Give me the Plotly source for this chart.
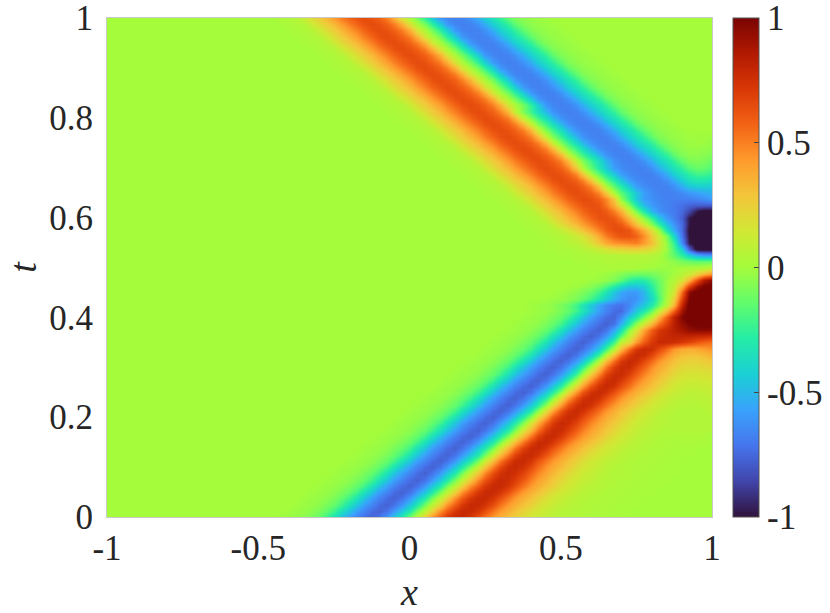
import plotly.graph_objects as go

x_grid = [-1, -0.75, -0.5, -0.475, -0.45, -0.425, -0.4, -0.375, -0.35, -0.325, -0.3, -0.275, -0.25, -0.225, -0.2,
          -0.175, -0.15, -0.125, -0.1, -0.075, -0.05, -0.025, 0, 0.025, 0.05, 0.075, 0.1, 0.125, 0.15, 0.175, 0.2,
          0.225, 0.25, 0.275, 0.3, 0.325, 0.35, 0.375, 0.4, 0.425, 0.45, 0.475, 0.5, 0.525, 0.55, 0.575, 0.6,
          0.625, 0.65, 0.675, 0.7, 0.725, 0.75, 0.775, 0.8, 0.825, 0.85, 0.875, 0.9, 0.925, 0.95, 0.975, 1]
t_grid = [0, 0.0125, 0.025, 0.0375, 0.05, 0.0625, 0.075, 0.0875, 0.1, 0.1125, 0.125, 0.1375, 0.15, 0.1625, 0.175,
          0.1875, 0.2, 0.2125, 0.225, 0.2375, 0.25, 0.2625, 0.275, 0.2875, 0.3, 0.3125, 0.325, 0.3375, 0.35, 0.3625,
          0.375, 0.3875, 0.4, 0.4125, 0.425, 0.4375, 0.45, 0.4625, 0.475, 0.4875, 0.5, 0.5125, 0.525, 0.5375, 0.55,
          0.5625, 0.575, 0.5875, 0.6, 0.6125, 0.625, 0.6375, 0.65, 0.6625, 0.675, 0.6875, 0.7, 0.7125, 0.725, 0.7375,
          0.75, 0.7625, 0.775, 0.7875, 0.8, 0.8125, 0.825, 0.8375, 0.85, 0.8625, 0.875, 0.8875, 0.9, 0.9125, 0.925,
          0.9375, 0.95, 0.9625, 0.975, 0.9875, 1]

# u(x, t) in hundredths, one row per t_grid entry
u_rows = [
    [0]*5 + [-1,-2,-3,-5,-9,-14,-22,-34,-46,-58,-67,-74,-77,-72,-60,-45,-30,-10,7,24,45,60,72,78,78,73,64,53,43,36,30,24,18,14,11,8,6,5,4,3,3,2,2,1,1,1],
    [0]*6 + [-1,-2,-3,-5,-9,-14,-22,-34,-46,-58,-67,-74,-77,-72,-60,-45,-30,-10,7,24,45,60,72,78,78,73,64,53,43,36,30,24,18,14,11,8,6,5,4,3,3,2,2,1,1,1],
    [0]*7 + [-1,-2,-3,-5,-9,-14,-22,-34,-46,-58,-67,-74,-77,-72,-60,-45,-30,-10,7,24,45,60,72,78,78,73,64,53,43,36,30,24,18,14,11,8,6,5,4,3,3,2,2,1,1,1],
    [0]*8 + [-1,-2,-3,-5,-9,-14,-22,-34,-46,-58,-67,-74,-77,-72,-60,-45,-30,-10,7,24,45,60,72,78,78,73,64,53,43,36,30,24,18,14,11,8,6,5,4,3,3,2,2,1,1,1],
    [0]*9 + [-1,-2,-3,-5,-9,-14,-22,-34,-46,-58,-67,-74,-77,-72,-60,-45,-30,-10,7,24,45,60,72,78,78,73,64,53,43,36,30,24,18,14,11,8,6,5,4,3,3,2,2,1,1,1],
    [0]*10 + [-1,-2,-3,-5,-9,-14,-22,-34,-46,-58,-67,-74,-77,-72,-60,-45,-30,-10,7,24,45,60,72,78,78,73,64,53,43,36,30,24,18,14,11,8,6,5,4,3,3,2,2,1,1,1],
    [0]*11 + [-1,-2,-3,-5,-9,-14,-22,-34,-46,-58,-67,-74,-77,-72,-60,-45,-30,-10,8,26,47,62,73,78,76,70,61,50,41,34,28,22,17,13,10,8,6,4,4,3,3,2,2,1,1,1],
    [0]*12 + [-1,-2,-3,-5,-9,-14,-22,-34,-46,-58,-67,-74,-77,-72,-60,-45,-30,-10,10,28,48,64,74,78,75,68,58,48,40,33,27,21,16,12,10,7,6,4,4,3,2,2,2,1,1,1],
    [0]*13 + [-1,-2,-3,-5,-9,-14,-22,-34,-46,-58,-67,-74,-77,-72,-60,-45,-30,-10,11,30,50,66,76,78,74,65,55,45,38,32,26,20,15,12,9,6,5,4,3,3,2,2,1,1,1],
    [0]*14 + [-1,-2,-3,-5,-9,-14,-22,-34,-46,-58,-67,-74,-77,-72,-60,-45,-30,-10,12,32,52,68,77,78,72,62,52,43,36,30,24,18,14,11,8,6,5,4,3,3,2,2,1,1,1],
    [0]*15 + [-1,-2,-3,-5,-9,-14,-22,-34,-46,-58,-67,-74,-77,-72,-60,-45,-30,-10,12,32,52,68,77,78,72,62,52,43,36,30,24,18,14,11,8,6,5,4,3,3,2,2,1,1,1],
    [0]*16 + [-1,-2,-3,-5,-9,-14,-22,-34,-46,-58,-67,-74,-77,-72,-60,-45,-30,-10,12,32,52,68,77,78,72,62,52,43,36,30,24,18,14,11,8,6,5,4,3,3,2,2,1,1,1],
    [0]*17 + [-1,-2,-3,-5,-9,-14,-22,-34,-46,-58,-67,-74,-77,-72,-60,-45,-30,-10,12,32,52,68,77,78,72,62,52,43,36,30,24,18,14,11,8,6,5,4,3,3,2,2,2,2,2],
    [0]*18 + [-1,-2,-3,-5,-9,-14,-22,-34,-46,-58,-67,-74,-77,-72,-60,-45,-30,-10,12,32,52,68,77,78,72,62,52,43,36,30,24,18,14,11,8,6,5,4,3,3,3,3,3,3],
    [0]*19 + [-1,-2,-3,-5,-9,-14,-22,-34,-46,-58,-67,-74,-77,-72,-60,-45,-30,-9,14,34,54,70,77,77,70,60,50,41,34,28,22,17,13,10,7,6,5,4,4,4,4,4,4,4],
    [0]*20 + [-1,-2,-3,-5,-9,-14,-22,-34,-46,-58,-67,-74,-77,-72,-60,-45,-29,-8,16,37,57,71,78,76,68,58,48,40,33,27,21,16,12,10,7,6,5,5,4,4,4,4,5],
    [0]*21 + [-1,-2,-3,-5,-9,-14,-22,-34,-46,-58,-67,-74,-77,-72,-60,-45,-28,-6,18,40,60,72,78,75,66,56,46,38,32,26,20,15,12,9,6,5,4,4,4,4,4,5],
    [0]*22 + [-1,-2,-3,-5,-9,-14,-22,-34,-46,-58,-67,-74,-77,-72,-60,-45,-28,-5,20,42,62,74,78,74,64,54,44,36,30,24,18,14,11,8,6,5,4,4,4,5,6],
    [0]*23 + [-1,-2,-3,-5,-9,-14,-22,-34,-46,-58,-67,-74,-77,-72,-60,-45,-28,-5,20,42,62,74,78,74,64,54,44,36,30,24,18,14,11,8,6,5,5,5,6,7],
    [0]*24 + [-1,-2,-3,-5,-9,-14,-22,-34,-46,-58,-67,-74,-77,-72,-60,-45,-28,-5,20,42,62,74,78,74,64,54,44,36,30,24,18,14,11,8,7,6,7,7,8],
    [0]*25 + [-1,-2,-3,-5,-9,-14,-22,-34,-46,-58,-67,-74,-77,-72,-60,-45,-28,-5,20,42,62,74,78,74,64,54,44,36,30,24,18,14,11,9,8,8,9,10],
    [0]*26 + [-1,-2,-3,-5,-9,-14,-22,-34,-46,-58,-67,-74,-77,-72,-60,-45,-28,-5,20,42,62,74,78,74,64,54,44,36,30,24,18,14,11,10,10,11,12],
    [0]*27 + [-1,-2,-3,-5,-9,-14,-22,-34,-46,-58,-67,-74,-77,-72,-60,-45,-26,-2,23,45,64,75,78,72,62,52,42,34,28,22,17,14,13,13,14,15],
    [0]*28 + [-1,-2,-3,-5,-9,-14,-22,-34,-46,-58,-67,-74,-77,-72,-60,-45,-25,0,26,48,67,76,77,70,60,49,40,33,27,21,17,16,16,17,18],
    [0]*29 + [-1,-2,-3,-5,-9,-14,-22,-34,-46,-58,-67,-74,-77,-72,-60,-45,-24,2,29,52,70,77,77,68,58,46,38,32,26,21,20,20,21,23],
    [0]*30 + [-1,-2,-3,-5,-9,-14,-22,-34,-46,-58,-67,-74,-77,-72,-60,-45,-22,5,32,55,72,78,76,66,55,44,36,30,26,24,24,26,28],
    [0]*31 + [-1,-2,-3,-5,-9,-14,-22,-34,-46,-58,-67,-74,-77,-72,-60,-45,-22,5,32,55,72,78,76,66,55,44,36,31,30,30,32,36],
    [0]*32 + [-1,-2,-3,-5,-9,-14,-22,-34,-46,-58,-67,-74,-77,-72,-60,-45,-22,5,32,55,72,78,76,66,55,44,38,36,38,41,45],
    [0]*33 + [-1,-2,-3,-5,-9,-14,-22,-34,-46,-58,-67,-74,-77,-72,-60,-45,-22,8,20,42,60,72,78,78,76,72,68,62,58,55],
    [0]*34 + [-1,-2,-3,-5,-9,-14,-22,-34,-46,-58,-67,-74,-77,-72,-60,-42,-15,8,28,50,66,75,78,80,80,80,78,77,75],
    [0]*35 + [-1,-2,-3,-5,-9,-14,-22,-34,-46,-58,-67,-74,-77,-72,-55,-35,-5,15,40,60,72,78,83,88,93,95,95,95],
    [0]*36 + [-1,-2,-3,-5,-9,-14,-22,-34,-46,-58,-67,-74,-77,-72,-52,-28,-5,15,35,55,70,83,93,99,103,103,103],
    [0]*37 + [-1,-2,-3,-5,-9,-14,-22,-34,-46,-58,-67,-74,-76,-65,-45,-30,-10,10,35,60,82,98,105,105,105,105],
    [0]*38 + [-1,-2,-3,-5,-9,-14,-22,-34,-46,-58,-67,-74,-75,-60,-45,-30,-12,10,34,60,90,105,105,105,105],
    [0]*38 + [-1,-2,-3,-5,-9,-14,-22,-33,-45,-56,-65,-70,-72,-66,-55,-45,-30,-12,8,35,80,105,105,105,105],
    [0]*40 + [-1,-2,-3,-5,-9,-14,-22,-32,-42,-52,-60,-64,-62,-52,-38,-18,3,25,68,100,105,105,105],
    [0]*42 + [-1,-3,-5,-9,-14,-22,-33,-45,-55,-60,-60,-50,-32,-15,0,15,55,95,105,105,105],
    [0]*44 + [-1,-3,-6,-11,-18,-28,-38,-45,-46,-42,-27,-14,-1,10,35,66,90,100,103],
    [0]*46 + [-1,-2,-4,-8,-15,-25,-30,-28,-20,-12,-2,4,15,35,62,85,95],
    [0]*47 + [-1,-2,-4,-7,-11,-12,-12,-10,-7,-4,0,6,12,25,36,45],
    [0]*46 + [1,1,2,2,2,2,1,0,-1,-2,-2,-1,1,2,3,5,10],
    [0]*44 + [1,1,2,2,3,3,3,3,3,3,2,1,-2,-5,-10,-13,-15,-15,-15],
    [0]*42 + [1,1,2,2,3,4,5,5,6,6,6,6,5,2,-6,-15,-28,-42,-55,-60,-62],
    [0]*40 + [1,1,2,2,3,5,8,12,16,20,22,24,25,22,18,10,-3,-20,-42,-78,-105,-105,-105],
    [0]*40 + [1,2,3,5,7,11,18,28,38,44,46,48,50,42,30,15,-5,-25,-65,-98,-105,-105,-105],
    [0]*39 + [1,2,3,4,7,11,17,26,38,50,58,62,62,58,46,27,10,-10,-40,-72,-100,-105,-105,-105],
    [0]*38 + [1,2,3,5,9,15,22,30,40,50,58,64,65,62,50,36,17,-3,-35,-55,-75,-102,-105,-105,-105],
    [0]*37 + [1,2,3,5,11,19,26,33,42,50,57,62,64,60,47,30,12,-8,-28,-48,-62,-75,-98,-105,-105,-105],
    [0]*36 + [1,2,3,5,11,19,26,33,42,50,57,63,64,60,50,33,15,-5,-25,-45,-60,-68,-78,-98,-105,-105,-105],
    [0]*35 + [1,2,3,5,11,19,26,33,42,50,57,62,64,60,50,36,12,-10,-32,-52,-62,-67,-70,-75,-85,-98,-103,-103],
    [0]*34 + [1,2,3,5,11,19,26,33,42,50,57,62,64,62,52,36,15,-8,-30,-50,-60,-64,-67,-70,-73,-76,-78,-78,-78],
    [0]*33 + [1,2,3,5,11,19,26,33,42,50,57,62,65,63,58,48,28,-5,-25,-45,-58,-63,-66,-68,-68,-68,-68,-66,-63,-60],
    [0]*32 + [1,2,3,5,11,19,26,33,42,50,57,63,65,63,58,48,28,2,-15,-30,-45,-58,-64,-67,-68,-67,-65,-61,-58,-55,-52],
    [0]*31 + [1,2,3,5,11,19,26,33,42,50,57,63,65,63,58,48,28,2,-15,-30,-45,-58,-64,-67,-68,-67,-62,-53,-45,-42,-42,-44],
    [0]*30 + [1,2,3,5,11,19,26,33,42,50,57,63,65,63,58,48,28,2,-15,-30,-45,-58,-64,-67,-68,-67,-62,-53,-42,-35,-31,-31,-34],
    [0]*29 + [1,2,3,5,11,19,26,33,42,50,57,63,65,63,58,48,28,2,-15,-30,-45,-58,-64,-67,-68,-67,-62,-53,-42,-34,-27,-22,-22,-25],
    [0]*28 + [1,2,3,5,11,19,26,33,42,50,57,63,65,63,58,48,28,2,-15,-30,-45,-58,-64,-67,-68,-67,-62,-53,-42,-34,-25,-17,-13,-14,-18],
    [0]*27 + [1,2,3,5,11,19,26,33,42,50,57,63,65,63,58,50,34,10,-8,-22,-36,-50,-62,-66,-68,-67,-62,-53,-42,-34,-25,-15,-9,-8,-9,-13],
    [0]*26 + [1,2,3,5,11,19,26,33,42,50,57,63,65,63,58,50,34,10,-8,-22,-36,-50,-62,-66,-68,-67,-62,-53,-42,-34,-25,-15,-8,-5,-5,-6,-8],
    [0]*25 + [1,2,3,5,11,19,26,33,42,50,57,63,65,63,58,50,34,10,-8,-22,-36,-50,-62,-66,-68,-67,-62,-53,-42,-34,-25,-15,-8,-5,-3,-3,-4,-5],
    [0]*24 + [1,2,3,5,11,19,26,33,42,50,57,63,65,63,58,50,34,10,-8,-22,-36,-50,-62,-66,-68,-67,-62,-53,-42,-34,-25,-15,-8,-5,-3,-2,-1,-2,-3],
    [0]*23 + [1,2,3,5,11,19,26,33,42,50,57,63,65,63,58,50,34,10,-8,-22,-36,-50,-62,-66,-68,-67,-62,-53,-42,-34,-25,-15,-8,-5,-3,-2,-1,-1,-1,-2],
    [0]*22 + [1,2,3,5,11,19,26,33,42,50,57,63,65,63,58,50,34,10,-8,-22,-36,-50,-62,-66,-68,-67,-62,-53,-42,-34,-25,-15,-8,-5,-3,-2,-1],
    [0]*21 + [1,2,3,5,11,19,26,33,42,50,57,63,65,63,58,50,34,10,-8,-22,-36,-50,-62,-66,-68,-67,-62,-53,-42,-34,-25,-15,-8,-5,-3,-2,-1],
    [0]*20 + [1,2,3,5,11,19,26,33,42,50,57,63,65,63,58,50,34,10,-8,-22,-36,-50,-62,-66,-68,-67,-62,-53,-42,-34,-25,-15,-8,-5,-3,-2,-1],
    [0]*19 + [1,2,3,5,11,19,26,33,42,50,57,63,65,63,58,50,34,10,-8,-22,-36,-50,-62,-66,-68,-67,-62,-53,-42,-34,-25,-15,-8,-5,-3,-2,-1],
    [0]*18 + [1,2,3,5,11,19,26,33,42,50,57,63,65,63,58,50,36,16,2,-10,-26,-43,-60,-66,-68,-67,-62,-53,-42,-34,-25,-15,-8,-5,-3,-2,-1],
    [0]*17 + [1,2,3,5,11,19,26,33,42,50,57,63,65,63,58,50,36,16,2,-10,-26,-43,-60,-66,-68,-67,-62,-53,-42,-34,-25,-15,-8,-5,-3,-2,-1],
    [0]*16 + [1,2,3,5,11,19,26,33,42,50,57,63,65,63,58,50,36,16,2,-10,-26,-43,-60,-66,-68,-67,-62,-53,-42,-34,-25,-15,-8,-5,-3,-2,-1],
    [0]*15 + [1,2,3,5,11,19,26,33,42,50,57,63,65,63,58,50,36,16,2,-10,-26,-43,-60,-66,-68,-67,-62,-53,-42,-34,-25,-15,-8,-5,-3,-2,-1],
    [0]*14 + [1,2,3,5,11,19,26,33,42,50,57,63,65,63,58,50,36,16,2,-10,-26,-43,-60,-66,-68,-67,-62,-53,-42,-34,-25,-15,-8,-5,-3,-2,-1],
    [0]*13 + [1,2,3,5,11,19,26,33,42,50,57,63,65,63,58,50,36,16,2,-10,-26,-43,-60,-66,-68,-67,-62,-53,-42,-34,-25,-15,-8,-5,-3,-2,-1],
    [0]*12 + [1,2,3,5,11,19,26,33,42,50,57,63,65,63,58,50,36,16,2,-10,-26,-43,-60,-66,-68,-67,-62,-53,-42,-34,-25,-15,-8,-5,-3,-2,-1],
    [0]*11 + [1,2,3,5,11,19,26,33,42,50,57,63,65,63,58,50,36,16,2,-10,-26,-43,-60,-66,-68,-67,-62,-53,-42,-34,-25,-15,-8,-5,-3,-2,-1],
    [0]*10 + [1,2,3,5,11,19,26,33,42,50,57,63,65,63,58,50,36,16,2,-10,-26,-43,-60,-66,-68,-67,-62,-53,-42,-34,-25,-15,-8,-5,-3,-2,-1],
    [0]*9 + [1,2,3,5,11,19,26,33,42,50,57,63,65,63,58,50,36,16,2,-10,-26,-43,-60,-66,-68,-67,-62,-53,-42,-34,-25,-15,-8,-5,-3,-2,-1],
    [0]*8 + [1,2,3,5,11,19,26,33,42,50,57,63,65,63,58,50,36,16,2,-10,-26,-43,-60,-66,-68,-67,-62,-53,-42,-34,-25,-15,-8,-5,-3,-2,-1],
    [0]*7 + [1,2,3,5,11,19,26,33,42,50,57,63,65,63,58,50,36,16,2,-10,-26,-43,-60,-66,-68,-67,-62,-53,-42,-34,-25,-15,-8,-5,-3,-2,-1],
    [0]*6 + [1,2,3,5,11,19,26,33,42,50,57,63,65,63,58,50,36,16,2,-10,-26,-43,-60,-66,-68,-67,-62,-53,-42,-34,-25,-15,-8,-5,-3,-2,-1],
    [0]*5 + [1,2,3,5,11,19,26,33,42,50,57,63,65,63,58,50,36,16,2,-10,-26,-43,-60,-66,-68,-67,-62,-53,-42,-34,-25,-15,-8,-5,-3,-2,-1],
    [0]*4 + [1,2,3,5,11,19,26,33,42,50,57,63,65,63,58,50,36,16,2,-10,-26,-43,-60,-66,-68,-67,-62,-53,-42,-34,-25,-15,-8,-5,-3,-2,-1],
]

x_ticks = [-1, -0.5, 0, 0.5, 1]
x_labels = ["-1", "-0.5", "0", "0.5", "1"]
t_ticks = [0, 0.2, 0.4, 0.6, 0.8, 1]
t_labels = ["0", "0.2", "0.4", "0.6", "0.8", "1"]
cbar_ticks = [-1, -0.5, 0, 0.5, 1]
cbar_labels = ["-1", "-0.5", "0", "0.5", "1"]

serif = "Liberation Serif"
ink = "#262626"

# rows only hold what differs from zero, fill the rest of the row
u_values = [[v / 100 for v in (row + [0] * len(x_grid))[:len(x_grid)]] for row in u_rows]

fig = go.Figure(
    go.Heatmap(
        x=x_grid,
        y=t_grid,
        z=u_values,
        zmin=-1,
        zmax=1,
        zsmooth="best",
        colorscale="Turbo",
        colorbar=dict(
            x=1.0347,
            xanchor="left",
            xpad=0,
            ypad=0,
            len=1,
            thickness=26,
            thicknessmode="pixels",
            outlinecolor="#555555",
            outlinewidth=1,
            ticks="inside",
            ticklen=5,
            tickcolor="#444444",
            tickvals=cbar_ticks,
            ticktext=cbar_labels,
            tickprefix=" ",
            ticklabeloverflow="allow",
            tickfont=dict(family=serif, size=35, color=ink),
        ),
    )
)
fig.update_xaxes(
    range=[-1, 1],
    tickvals=x_ticks,
    ticktext=x_labels,
    ticks="",
    ticklabelstandoff=0,
    ticklabeloverflow="allow",
    showgrid=False,
    zeroline=False,
    showline=True,
    mirror=True,
    linecolor="#c8c8c8",
    tickfont=dict(family=serif, size=35, color=ink),
    title=dict(text="<i>x</i>", font=dict(family=serif, size=38, color=ink), standoff=13),
)
fig.update_yaxes(
    range=[0, 1],
    tickvals=t_ticks,
    ticktext=t_labels,
    ticks="",
    ticklabelstandoff=6,
    ticklabeloverflow="allow",
    showgrid=False,
    zeroline=False,
    showline=True,
    mirror=True,
    linecolor="#c8c8c8",
    tickfont=dict(family=serif, size=35, color=ink),
    title=dict(text="<i>t</i>", font=dict(family=serif, size=38, color=ink), standoff=0),
)
fig.update_layout(
    width=830,
    height=613,
    margin=dict(l=107, r=118, t=18, b=96, autoexpand=False),
    paper_bgcolor="white",
    plot_bgcolor="white",
)

fig.write_html("out.html", config={"displayModeBar": False}, post_script="document.body.style.margin = '0';")
